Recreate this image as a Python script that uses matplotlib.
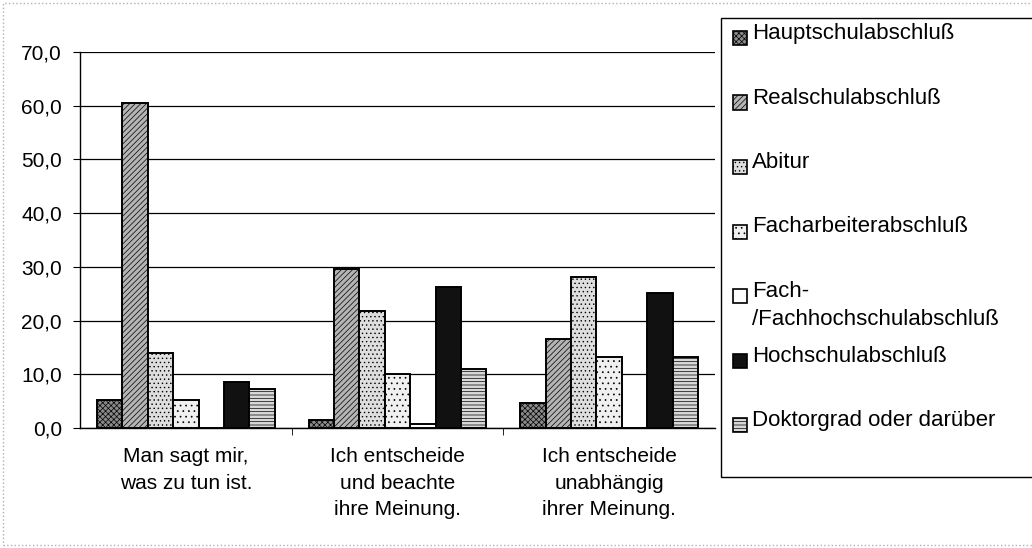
import matplotlib
matplotlib.use("Agg")
import numpy as np
import matplotlib.pyplot as plt
from matplotlib.patches import Rectangle

plt.rcParams['font.family'] = ['Liberation Sans', 'DejaVu Sans']
plt.rcParams['hatch.linewidth'] = 0.5

categories = ["Man sagt mir,\nwas zu tun ist.",
              "Ich entscheide\nund beachte\nihre Meinung.",
              "Ich entscheide\nunabhängig\nihrer Meinung."]

series = ["Hauptschulabschluß", "Realschulabschluß", "Abitur",
          "Facharbeiterabschluß", "Fach-\n/Fachhochschulabschluß",
          "Hochschulabschluß", "Doktorgrad oder darüber"]

hauptschule = [5.2, 1.5, 4.7]
realschule = [60.5, 29.6, 16.6]
abitur = [13.9, 21.8, 28.1]
facharbeiter = [5.2, 10.1, 13.2]
fachhochschule = [0.0, 0.7, 0.0]
hochschule = [8.6, 26.3, 25.1]
doktor = [7.2, 11.0, 13.2]

values = [hauptschule, realschule, abitur, facharbeiter,
          fachhochschule, hochschule, doktor]

faces = ['#8a8a8a', '#b4b4b4', '#dedede', '#f0f0f0', 'white', '#111111', '#d8d8d8']
hatches = ['xxxxxx', '//////', '....', '...', None, None, '-----']

W, H = 1032, 548
fig = plt.figure(figsize=(W / 100, H / 100), dpi=100)
ax = fig.add_axes([80 / W, 1 - 428 / H, (715 - 80) / W, (428 - 52) / H])

x = np.arange(len(categories))
bw = 0.12
for i, (name, vals) in enumerate(zip(series, values)):
    offs = (i - 3) * bw
    ax.bar(x + offs, vals, bw, color=faces[i], hatch=hatches[i],
           edgecolor='black', linewidth=1.4, label=name, zorder=3)

ax.set_xlim(-0.5, 2.5)
ax.set_ylim(0, 70)
ax.set_yticks(np.arange(0, 71, 10))
ax.set_yticklabels([f"{v:.1f}".replace('.', ',') for v in np.arange(0, 71, 10)],
                   fontsize=15)
ax.yaxis.grid(True, color='black', linewidth=0.9, zorder=0)
ax.set_xticks(x)
ax.set_xticklabels(categories, fontsize=15, linespacing=1.5)
ax.set_xticks([0.5, 1.5], minor=True)
ax.tick_params(axis='x', which='major', length=0, pad=14)
ax.tick_params(axis='x', which='minor', length=5, direction='out')
ax.tick_params(axis='y', length=5, direction='out', pad=8)
for s in ['top', 'right']:
    ax.spines[s].set_visible(False)
ax.spines['left'].set_linewidth(1.0)
ax.spines['bottom'].set_linewidth(1.0)


def px(xp, yp):
    # pixel position (from top left) -> figure fraction
    return xp / W, 1 - yp / H


# legend box, drawn by hand to keep the even row pitch of the original
x0, y0 = px(721, 477)
fig.patches.append(Rectangle((x0, y0), (1040 - 721) / W, (477 - 18) / H,
                             transform=fig.transFigure, fill=False,
                             edgecolor='black', linewidth=1.0))
pitch = 64.5
for i, name in enumerate(series):
    yc = 30 + pitch * i
    mx, my = px(733, yc + 15)
    fig.patches.append(Rectangle((mx, my), 14 / W, 14 / H,
                                 transform=fig.transFigure, facecolor=faces[i],
                                 hatch=hatches[i], edgecolor='black', linewidth=1.2))
    tx, ty = px(752, yc - 7)
    fig.text(tx, ty, name, fontsize=16, va='top', ha='left', linespacing=1.42)

# outer border of the scanned chart
fig.patches.append(Rectangle((3 / W, 3 / H), 1.0, 1 - 6 / H,
                             transform=fig.transFigure, fill=False,
                             edgecolor='#b0b0b0', linewidth=1.0, linestyle=':'))

fig.savefig("out.png", dpi=100)
